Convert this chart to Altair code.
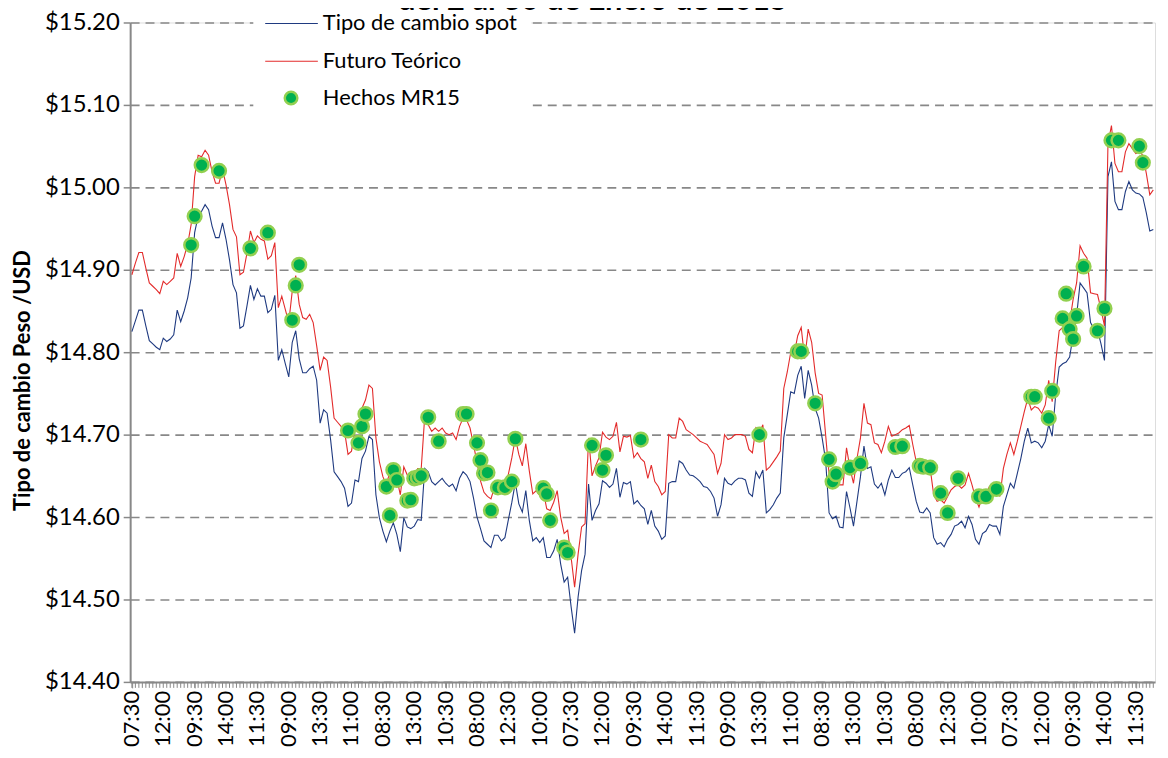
import altair as alt
import pandas as pd

# ---------------- data ----------------
times = ["07:30", "08:00", "08:30", "09:00", "09:30", "10:00", "10:30",
         "11:00", "11:30", "12:00", "12:30", "13:00", "13:30", "14:00"]

spot = [
    14.825, 14.838, 14.851, 14.851, 14.832, 14.814, 14.810, 14.806, 14.803, 14.817,
    14.813, 14.816, 14.821, 14.851, 14.837, 14.850, 14.866, 14.890, 14.945, 14.965,
    14.971, 14.979, 14.973, 14.953, 14.939, 14.939, 14.957, 14.937, 14.912, 14.882,
    14.872, 14.829, 14.832, 14.856, 14.881, 14.864, 14.877, 14.868, 14.868, 14.848,
    14.852, 14.869, 14.790, 14.803, 14.786, 14.770, 14.812, 14.826, 14.792, 14.775,
    14.775, 14.780, 14.783, 14.766, 14.714, 14.730, 14.726, 14.694, 14.655, 14.649,
    14.643, 14.635, 14.613, 14.617, 14.645, 14.643, 14.671, 14.680, 14.698, 14.694,
    14.627, 14.599, 14.583, 14.570, 14.583, 14.593, 14.579, 14.558, 14.599, 14.588,
    14.586, 14.589, 14.597, 14.596, 14.659, 14.655, 14.643, 14.639, 14.643, 14.647,
    14.641, 14.637, 14.640, 14.632, 14.647, 14.655, 14.651, 14.643, 14.623, 14.600,
    14.586, 14.571, 14.567, 14.563, 14.578, 14.578, 14.571, 14.575, 14.597, 14.618,
    14.642, 14.616, 14.606, 14.632, 14.596, 14.571, 14.575, 14.569, 14.575, 14.551,
    14.551, 14.559, 14.573, 14.543, 14.521, 14.527, 14.491, 14.459, 14.503, 14.535,
    14.555, 14.640, 14.596, 14.608, 14.616, 14.644, 14.641, 14.636, 14.640, 14.659,
    14.624, 14.642, 14.640, 14.643, 14.616, 14.620, 14.614, 14.610, 14.591, 14.608,
    14.589, 14.583, 14.573, 14.577, 14.641, 14.643, 14.643, 14.668, 14.665, 14.657,
    14.651, 14.650, 14.647, 14.643, 14.637, 14.636, 14.631, 14.623, 14.601, 14.615,
    14.647, 14.641, 14.639, 14.644, 14.647, 14.647, 14.645, 14.629, 14.625, 14.655,
    14.647, 14.657, 14.605, 14.609, 14.615, 14.623, 14.629, 14.696, 14.724, 14.752,
    14.750, 14.772, 14.783, 14.744, 14.778, 14.760, 14.732, 14.720, 14.696, 14.669,
    14.605, 14.598, 14.601, 14.588, 14.587, 14.631, 14.611, 14.589, 14.619, 14.649,
    14.686, 14.659, 14.661, 14.640, 14.635, 14.641, 14.627, 14.645, 14.657, 14.648,
    14.648, 14.653, 14.655, 14.660, 14.639, 14.619, 14.606, 14.605, 14.611, 14.605,
    14.575, 14.567, 14.569, 14.564, 14.573, 14.579, 14.589, 14.591, 14.595, 14.587,
    14.601, 14.591, 14.573, 14.567, 14.580, 14.583, 14.591, 14.589, 14.589, 14.579,
    14.613, 14.627, 14.641, 14.635, 14.653, 14.671, 14.692, 14.708, 14.690, 14.692,
    14.690, 14.684, 14.692, 14.712, 14.698, 14.748, 14.782, 14.786, 14.788, 14.794,
    14.820, 14.844, 14.884, 14.878, 14.872, 14.836, 14.828, 14.827, 14.810, 14.790,
    15.013, 15.031, 14.983, 14.973, 14.973, 14.995, 15.007, 14.997, 14.993, 14.992,
    14.988, 14.969, 14.947, 14.949,
]

futuro = [
    14.894, 14.908, 14.921, 14.921, 14.902, 14.884, 14.880, 14.876, 14.871, 14.886,
    14.882, 14.886, 14.890, 14.920, 14.904, 14.916, 14.931, 14.955, 15.013, 15.039,
    15.037, 15.045, 15.039, 15.019, 15.005, 15.005, 15.022, 15.003, 14.979, 14.949,
    14.940, 14.894, 14.897, 14.920, 14.947, 14.933, 14.941, 14.937, 14.935, 14.913,
    14.917, 14.933, 14.854, 14.868, 14.852, 14.836, 14.874, 14.893, 14.858, 14.842,
    14.840, 14.846, 14.836, 14.808, 14.778, 14.794, 14.790, 14.758, 14.720, 14.715,
    14.710, 14.704, 14.676, 14.680, 14.708, 14.708, 14.732, 14.742, 14.760, 14.756,
    14.696, 14.667, 14.649, 14.639, 14.655, 14.663, 14.647, 14.627, 14.661, 14.651,
    14.649, 14.651, 14.659, 14.659, 14.722, 14.712, 14.704, 14.708, 14.704, 14.708,
    14.702, 14.700, 14.702, 14.694, 14.710, 14.720, 14.718, 14.708, 14.688, 14.666,
    14.644, 14.630, 14.625, 14.622, 14.636, 14.636, 14.630, 14.634, 14.652, 14.672,
    14.696, 14.676, 14.662, 14.689, 14.656, 14.628, 14.632, 14.626, 14.632, 14.610,
    14.608, 14.618, 14.632, 14.600, 14.580, 14.584, 14.551, 14.515, 14.555, 14.588,
    14.592, 14.696, 14.650, 14.662, 14.672, 14.703, 14.697, 14.694, 14.698, 14.715,
    14.679, 14.698, 14.697, 14.699, 14.672, 14.678, 14.671, 14.667, 14.647, 14.663,
    14.643, 14.637, 14.627, 14.631, 14.700, 14.696, 14.696, 14.720, 14.716, 14.706,
    14.703, 14.700, 14.696, 14.692, 14.690, 14.688, 14.682, 14.676, 14.653, 14.665,
    14.700, 14.694, 14.696, 14.700, 14.700, 14.700, 14.698, 14.682, 14.678, 14.708,
    14.702, 14.712, 14.657, 14.661, 14.667, 14.673, 14.680, 14.756, 14.776, 14.800,
    14.798, 14.820, 14.830, 14.792, 14.828, 14.812, 14.775, 14.750, 14.748, 14.700,
    14.652, 14.641, 14.643, 14.639, 14.639, 14.684, 14.659, 14.641, 14.671, 14.696,
    14.738, 14.714, 14.712, 14.690, 14.688, 14.678, 14.692, 14.710, 14.698, 14.700,
    14.702, 14.706, 14.708, 14.711, 14.688, 14.667, 14.663, 14.661, 14.667, 14.659,
    14.627, 14.619, 14.621, 14.617, 14.625, 14.633, 14.637, 14.639, 14.635, 14.639,
    14.653, 14.639, 14.623, 14.612, 14.625, 14.628, 14.637, 14.635, 14.636, 14.625,
    14.659, 14.676, 14.690, 14.676, 14.692, 14.710, 14.728, 14.744, 14.730, 14.734,
    14.732, 14.726, 14.736, 14.766, 14.740, 14.788, 14.826, 14.830, 14.832, 14.836,
    14.864, 14.884, 14.929, 14.920, 14.914, 14.872, 14.871, 14.870, 14.852, 14.832,
    15.053, 15.075, 15.029, 15.019, 15.019, 15.043, 15.053, 15.047, 15.041, 15.043,
    15.039, 15.017, 14.991, 14.997,
]

hechos_idx = [17, 18, 20, 25, 34, 39, 46, 47, 48, 62, 65, 66, 67, 73, 74, 75, 76,
              79, 80, 81, 82, 83, 85, 88, 95, 96, 99, 100, 101, 102, 103, 105, 107,
              109, 110, 118, 119, 120, 124, 125, 132, 135, 136, 146, 180, 191, 192,
              196, 200, 201, 202, 206, 209, 219, 221, 226, 227, 229, 232, 234, 237,
              243, 245, 248, 258, 259, 263, 264, 267, 268, 269, 270, 271, 273, 277,
              279, 281, 283, 289, 290]
hechos_val = [14.930, 14.965, 15.027, 15.020, 14.926, 14.945, 14.839, 14.881, 14.906,
              14.705, 14.690, 14.710, 14.725, 14.637, 14.602, 14.657, 14.645, 14.620,
              14.621, 14.647, 14.648, 14.650, 14.721, 14.692, 14.725, 14.725, 14.690,
              14.669, 14.653, 14.654, 14.608, 14.636, 14.636, 14.643, 14.695, 14.635,
              14.628, 14.596, 14.563, 14.557, 14.687, 14.657, 14.675, 14.694, 14.700,
              14.801, 14.801, 14.738, 14.670, 14.643, 14.652, 14.660, 14.665, 14.685,
              14.686, 14.662, 14.661, 14.660, 14.629, 14.605, 14.647, 14.625, 14.625,
              14.634, 14.746, 14.746, 14.720, 14.753, 14.841, 14.871, 14.828, 14.816,
              14.844, 14.904, 14.826, 14.853, 15.057, 15.057, 15.050, 15.030]

y_ticks = [14.40, 14.50, 14.60, 14.70, 14.80, 14.90, 15.00, 15.10, 15.20]
label_every = 9
legend_labels = ["Tipo de cambio spot", "Futuro Teórico", "Hechos MR15"]
title_text = "del 2 al 30 de Enero de 2015"
y_title = "Tipo de cambio Peso /USD"

# ---------------- chart ----------------
FONT = "Lato"
GRAY = "#888888"
NAVY = "#1F3A80"
RED = "#E32B2B"
GREEN = "#00B050"
LIGHTGREEN = "#92D050"

W, H = 1032, 664
n = len(spot)

df = pd.DataFrame({"i": list(range(n)), "spot": spot, "futuro": futuro})
dots = pd.DataFrame({"i": hechos_idx, "v": hechos_val})
lab_i = list(range(0, n, label_every))
xlabels = pd.DataFrame({"i": lab_i, "t": [times[k % len(times)] for k in lab_i]})
one = pd.DataFrame({"k": [0]})

x_axis = alt.Axis(values=lab_i, labels=False, tickSize=6, tickColor=GRAY,
                  tickWidth=1, domainColor=GRAY, domainWidth=2, grid=False,
                  title=None)
y_axis = alt.Axis(values=y_ticks, format="$.2f", grid=True, gridDash=[9, 6],
                  gridColor=GRAY, gridWidth=1.6, domainColor=GRAY, domainWidth=2,
                  tickColor=GRAY, tickSize=7, tickWidth=1.5, labelFontSize=24,
                  labelFont=FONT, labelColor="black", labelPadding=4,
                  title=y_title, titleFontSize=22, titleFont=FONT,
                  titleFontWeight="bold", titleColor="black", titleX=-108,
                  titleY=H / 2 + 28, titleAngle=270, titleAlign="center",
                  titleBaseline="middle")

xs = alt.Scale(domain=[-0.5, n - 0.5], nice=False, zero=False)
ys = alt.Scale(domain=[14.40, 15.20], nice=False, zero=False)

# dense minor ticks: one per observation
minor = alt.Chart(df).mark_rule(color=GRAY, strokeWidth=1).encode(
    x=alt.X("i:Q", scale=xs), y=alt.value(H), y2=alt.value(H + 6))

# rotated time labels, every 9th observation
xlab = alt.Chart(xlabels).mark_text(angle=270, align="right", baseline="middle",
                                    font=FONT, fontSize=22, color="black").encode(
    x=alt.X("i:Q", scale=xs), y=alt.value(H + 9), text="t:N")

spot_line = alt.Chart(df).mark_line(color=NAVY, strokeWidth=1.1).encode(
    x=alt.X("i:Q", scale=xs, axis=x_axis),
    y=alt.Y("spot:Q", scale=ys, axis=y_axis),
)
fut_line = alt.Chart(df).mark_line(color=RED, strokeWidth=1.1).encode(
    x=alt.X("i:Q", scale=xs),
    y=alt.Y("futuro:Q", scale=ys),
)
pts = alt.Chart(dots).mark_point(shape="circle", filled=True, fill=GREEN,
                                 stroke=LIGHTGREEN, strokeWidth=2.5, size=190,
                                 opacity=1).encode(
    x=alt.X("i:Q", scale=xs),
    y=alt.Y("v:Q", scale=ys),
)

# legend box (inside plot, top-left)
leg_bg = alt.Chart(one).mark_rect(fill="white").encode(
    x=alt.value(124), x2=alt.value(404), y=alt.value(-12), y2=alt.value(90))
leg_spot = alt.Chart(one).mark_rule(color=NAVY, strokeWidth=1.1).encode(
    x=alt.value(136), x2=alt.value(189), y=alt.value(1))
leg_fut = alt.Chart(one).mark_rule(color=RED, strokeWidth=1.1).encode(
    x=alt.value(136), x2=alt.value(189), y=alt.value(39))
leg_dot = alt.Chart(one).mark_point(shape="circle", filled=True, fill=GREEN,
                                    stroke=LIGHTGREEN, strokeWidth=2.5, size=160,
                                    opacity=1).encode(
    x=alt.value(162), y=alt.value(76))
leg_texts = []
for lab, yy in zip(legend_labels, [1, 39, 76]):
    leg_texts.append(
        alt.Chart(one).mark_text(align="left", baseline="middle", font=FONT,
                                 fontSize=22, color="black").encode(
            x=alt.value(194), y=alt.value(yy), text=alt.value(lab)))

# title: only its lower part is visible at the very top, as in the reference
title = alt.Chart(one).mark_text(align="center", baseline="alphabetic", font=FONT,
                                 fontSize=31, fontWeight="bold",
                                 color="black").encode(
    x=alt.value(466), y=alt.value(-13), text=alt.value(title_text))

chart = alt.layer(minor, spot_line, fut_line, pts, xlab, leg_bg, leg_spot,
                  leg_fut, leg_dot, *leg_texts, title).properties(
    width=W, height=H,
    padding={"left": 123, "top": 12, "right": 5, "bottom": 70},
    autosize=alt.AutoSizeParams(type="none"),
).configure_view(strokeWidth=0).configure(font=FONT)

chart.save("out.html", embed_options={"renderer": "svg", "actions": False})
